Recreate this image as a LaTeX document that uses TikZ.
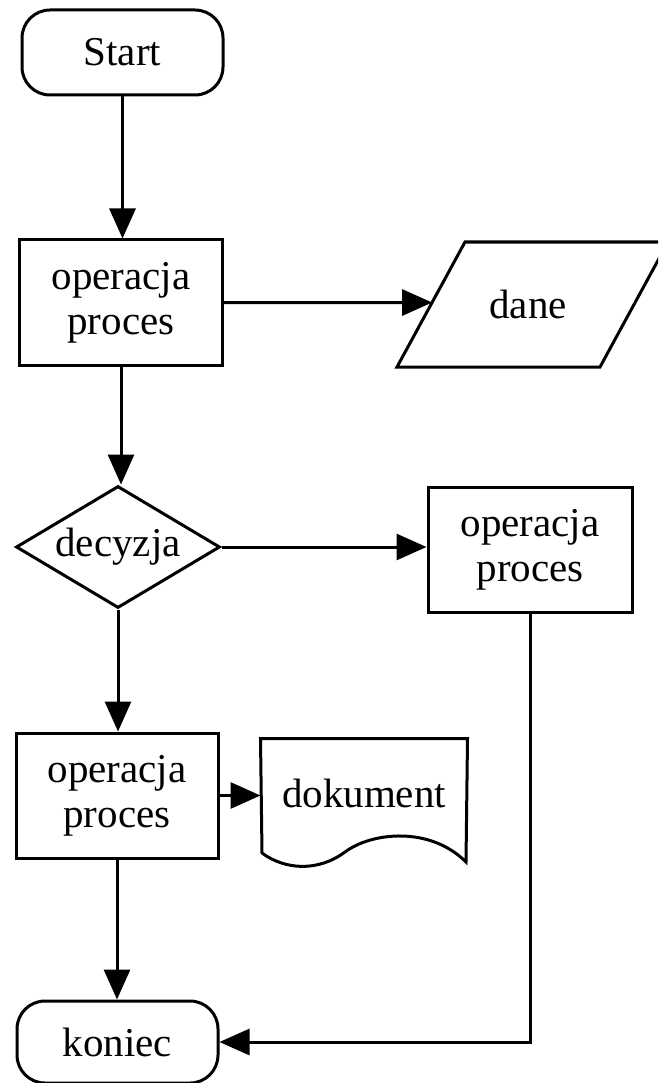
\documentclass[tikz,border=0pt]{standalone}
\usepackage{fontspec}
\setmainfont{Liberation Serif}
\usetikzlibrary{arrows.meta,shapes.geometric}
\begin{document}
\begin{tikzpicture}[x=1pt,y=-1pt,
  line width=3pt,
  every node/.style={font=\fontsize{41}{45}\selectfont},
  terminal/.style={draw, rectangle, rounded corners=28pt, minimum width=201pt, minimum height=82pt, inner sep=0pt},
  procbox/.style={draw, rectangle, minimum width=203pt, minimum height=125pt, align=center, inner sep=0pt},
  decision/.style={draw, diamond, shape aspect=1.67, minimum width=204pt, minimum height=122pt, inner sep=0pt},
  plainlabel/.style={inner sep=0pt},
  flow/.style={-{Triangle[length=30pt,width=26pt]}},
]
\clip (0,0) rectangle (658,1083);
\fill[white] (0,0) rectangle (658,1083);

% left column
\node[terminal, minimum height=85pt] (start) at (122.5,52.5) {Start};
\node[procbox] (op1) at (121,302.5) {operacja\\proces};
\node[decision] (dec) at (118,547) {decyzja};
\node[procbox, minimum width=202pt] (op3) at (117,795.5) {operacja\\proces};
\node[terminal] (end) at (117.5,1042) {koniec};

% right column
\node[procbox, minimum width=204pt] (op2) at (530,549.5) {operacja\\proces};

% data (parallelogram)
\coordinate (dBL) at (397,367);
\coordinate (dTL) at (465,242);
\coordinate (dTR) at (668,242);
\coordinate (dBR) at (600,367);
\draw (dBL) -- (dTL) -- (dTR) -- (dBR) -- cycle;
\node[plainlabel] (dane) at (528,304) {dane};
\coordinate (daneIn) at (intersection cs: first line={(op1.east)--(op1.east -| dTR)}, second line={(dBL)--(dTL)});

% document with wavy bottom edge
\node[plainlabel, minimum width=204pt, minimum height=106pt] (doc) at (364,793) {dokument};
\draw (doc.north west) -- (doc.north east) -- (466,862)
  .. controls (430,826) and (372,832) .. (345,852)
  .. controls (318,872) and (285,870) .. (262,853) -- cycle;

% connectors
\draw[flow] (start.south) -- (start.south |- op1.north);
\draw[flow] (op1.east) -- (daneIn);
\draw[flow] (op1.south) -- (op1.south |- dec.north);
\draw[flow] (dec.east) -- (dec.east -| op2.west);
\draw[flow] (dec.south) -- (dec.south |- op3.north);
\draw[flow] (op3.east) -- (op3.east -| doc.west);
\draw[flow] (op3.south) -- (op3.south |- end.north);
\draw[flow] (op2.south) |- (end.east);
\end{tikzpicture}
\end{document}
